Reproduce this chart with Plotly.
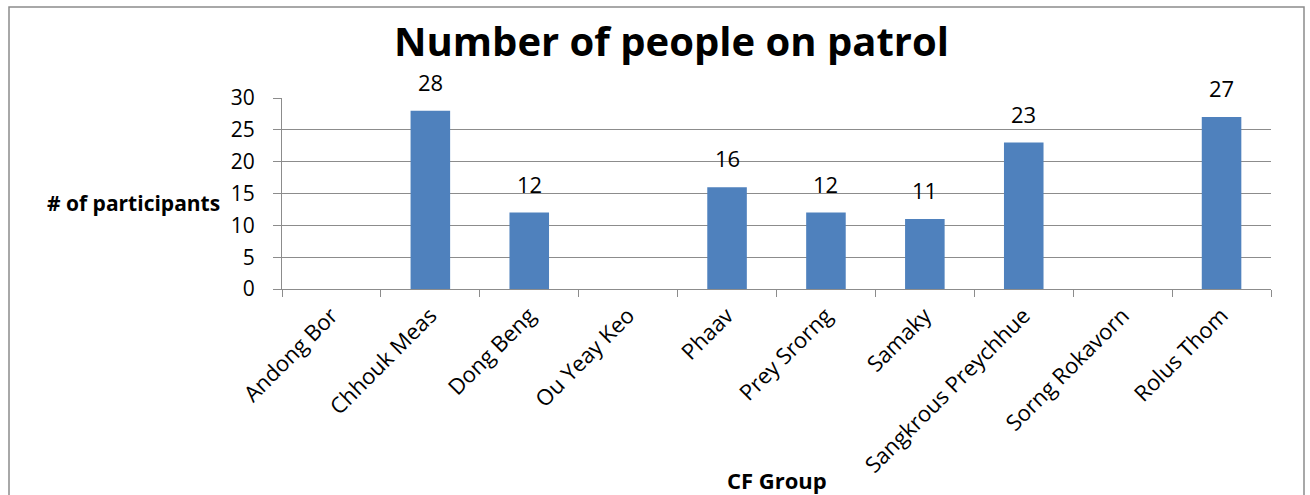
import plotly.graph_objects as go

groups = ["Andong Bor", "Chhouk Meas", "Dong Beng", "Ou Yeay Keo", "Phaav",
          "Prey Srorng", "Samaky", "Sangkrous Preychhue", "Sorng Rokavorn", "Rolus Thom"]
participants = [None, 28, 12, None, 16, 12, 11, 23, None, 27]
y_ticks = [0, 5, 10, 15, 20, 25, 30]

W, H = 1310, 495
ml, mr, mt, mb = 282, 39, 98, 206
pw, ph = W - ml - mr, H - mt - mb


def px_x(x):
    return (x - ml) / pw


def px_y(y):
    return (H - mb - y) / ph


FONT = "Open Sans"
GRID = "#8c8c8c"

fig = go.Figure(go.Bar(
    x=groups,
    y=participants,
    marker=dict(color="#4f81bd", line=dict(width=0)),
    hoverinfo="x+y",
))

# value labels above each bar
value_labels = [
    dict(x=g, y=v, xref="x", yref="y", text=str(v), showarrow=False,
         xanchor="center", yanchor="bottom", yshift=12,
         font=dict(family=FONT, size=22, color="#000000"))
    for g, v in zip(groups, participants) if v is not None
]

fig.update_layout(
    width=W, height=H,
    margin=dict(l=ml, r=mr, t=mt, b=mb),
    paper_bgcolor="white",
    plot_bgcolor="white",
    bargap=0.6,
    showlegend=False,
    font=dict(family=FONT, color="#000000"),
    xaxis=dict(
        type="category",
        tickson="boundaries",
        ticks="outside",
        ticklen=7,
        tickcolor=GRID,
        tickangle=-45,
        tickfont=dict(family=FONT, size=22),
        ticklabelstandoff=4,
        showline=True, linecolor=GRID, linewidth=1,
        showgrid=False,
    ),
    yaxis=dict(
        range=[0, 30],
        tickvals=y_ticks,
        ticks="outside",
        ticklen=8,
        tickcolor=GRID,
        tickfont=dict(family=FONT, size=21),
        ticklabelstandoff=14,
        showline=True, linecolor=GRID, linewidth=1,
        showgrid=True, gridcolor=GRID, gridwidth=1,
        zeroline=False,
    ),
    shapes=[dict(
        type="rect", xref="paper", yref="paper",
        x0=px_x(9), x1=px_x(1304), y0=px_y(520), y1=px_y(7),
        line=dict(color="#8c8c8c", width=1.5),
        fillcolor="rgba(0,0,0,0)", layer="below",
    )],
    annotations=value_labels + [
        dict(text="<b>Number of people on patrol</b>", xref="paper", yref="paper",
             x=px_x(671), y=px_y(41), xanchor="center", yanchor="middle",
             showarrow=False, font=dict(family=FONT, size=40)),
        dict(text="<b># of participants</b>", xref="paper", yref="paper",
             x=px_x(222), y=px_y(203), xanchor="right", yanchor="middle",
             showarrow=False, font=dict(family=FONT, size=21)),
        dict(text="<b>CF Group</b>", xref="paper", yref="paper",
             x=px_x(777), y=px_y(480), xanchor="center", yanchor="middle",
             showarrow=False, font=dict(family=FONT, size=22)),
    ],
)

fig.write_html("out.html")
